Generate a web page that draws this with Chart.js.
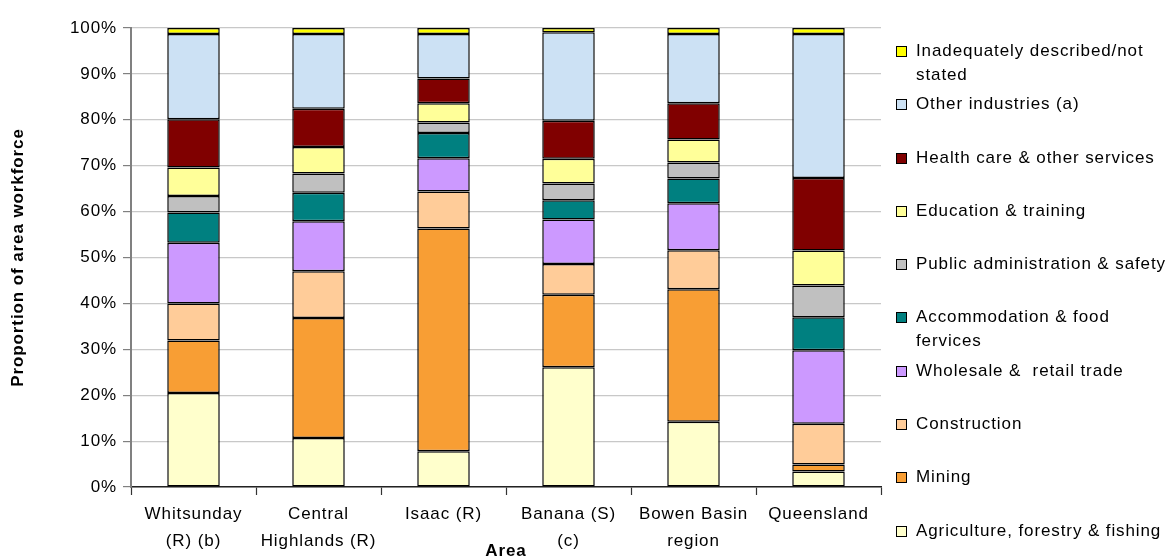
<!DOCTYPE html>
<html>
<head>
<meta charset="utf-8">
<script src="https://cdn.jsdelivr.net/npm/chart.js@4/dist/chart.umd.min.js"></script>
<style>
  html, body { margin: 0; padding: 0; background: #fff; width: 1173px; height: 558px; overflow: hidden; }
  #wrap { position: absolute; left: 0; top: 0; width: 1173px; height: 558px; }
  #legend { position: absolute; left: 896px; top: 39px; font-family: "Liberation Sans", Arial, sans-serif; font-size: 17px; letter-spacing: 0.9px; color: #000; }
  .item { position: relative; height: 53.3px; }
  .sw { position: absolute; left: 0; top: 7px; width: 9px; height: 9px; border: 1px solid #000; }
  .tx { position: absolute; left: 20px; top: 0; line-height: 24px; white-space: pre; }
</style>
</head>
<body>
<div id="wrap"><canvas id="c" width="1173" height="558"></canvas></div>
<div id="legend"></div>
<script>
const categories = [["Whitsunday", "(R) (b)"], ["Central", "Highlands (R)"], ["Isaac (R)"], ["Banana (S)", "(c)"], ["Bowen Basin", "region"], ["Queensland"]];
const yTicks = [0, 10, 20, 30, 40, 50, 60, 70, 80, 90, 100];

const agriculture   = [20.5, 10.7, 7.8, 26.1, 14.2, 3.4];
const mining        = [11.4, 26.1, 48.5, 15.8, 28.9, 1.5];
const construction  = [8.1, 10.2, 8.1, 6.7, 8.5, 8.9];
const wholesale     = [13.2, 10.9, 7.2, 9.7, 10.2, 16.0];
const accommodation = [6.6, 6.2, 5.5, 4.2, 5.4, 7.2];
const publicAdmin   = [3.6, 4.2, 2.3, 3.6, 3.5, 6.9];
const education     = [6.2, 5.8, 4.2, 5.4, 5.0, 7.6];
const health        = [10.5, 8.3, 5.4, 8.3, 7.9, 15.8];
const otherInd      = [18.6, 16.3, 9.7, 19.3, 15.1, 31.4];
const inadequate    = [1.3, 1.3, 1.3, 0.9, 1.3, 1.3];

const seriesNames = [
  "Agriculture, forestry & fishing",
  "Mining",
  "Construction",
  "Wholesale &  retail trade",
  "Accommodation & food\nfervices",
  "Public administration & safety",
  "Education & training",
  "Health care & other services",
  "Other industries (a)",
  "Inadequately described/not\nstated"
];
const seriesData = [agriculture, mining, construction, wholesale, accommodation, publicAdmin, education, health, otherInd, inadequate];
const seriesColors = ["#FFFFCC", "#F89E34", "#FFCC99", "#CC99FF", "#008080", "#C0C0C0", "#FFFF99", "#800000", "#CCE1F4", "#FFFF00"];

const FONT = '"Liberation Sans", Arial, sans-serif';

const datasets = seriesNames.map((n, i) => ({
  label: n,
  data: seriesData[i],
  backgroundColor: seriesColors[i],
  borderColor: "#000000",
  borderWidth: 1.5,
  borderSkipped: false,
  categoryPercentage: 1,
  barPercentage: 0.42
}));

function spacing(chart) { try { chart.ctx.letterSpacing = "0.9px"; } catch (e) {} }
const spacingPlugin = {
  id: "spacing",
  beforeInit: spacing, beforeUpdate: spacing, beforeLayout: spacing, afterLayout: spacing, beforeDraw: spacing, beforeDatasetsDraw: spacing
};

new Chart(document.getElementById("c"), {
  type: "bar",
  data: { labels: categories, datasets },
  plugins: [spacingPlugin],
  options: {
    responsive: false,
    animation: false,
    layout: { padding: { top: 28, right: 292, bottom: 0, left: 0 } },
    plugins: { legend: { display: false }, tooltip: { enabled: false } },
    scales: {
      x: {
        stacked: true,
        offset: true,
        border: { display: true, color: "#222", width: 1.5 },
        grid: { offset: true, drawOnChartArea: false, drawTicks: true, tickLength: 8, tickColor: "#333", tickWidth: 1.2 },
        ticks: { color: "#000", padding: 6, maxRotation: 0, autoSkip: false, font: { family: FONT, size: 17, lineHeight: 1.59 } },
        title: { display: true, text: "Area", color: "#000", font: { family: FONT, size: 17, weight: "bold" }, padding: { top: 0, bottom: -4 } },
        afterFit: (s) => { s.height = 71; }
      },
      y: {
        stacked: true,
        min: 0, max: 100,
        border: { display: true, color: "#808080", width: 2 },
        grid: { color: "#c8c8c8", lineWidth: 1.2, tickLength: 8, tickColor: "#808080", tickWidth: 1.2 },
        afterBuildTicks: (s) => { s.ticks = yTicks.map(v => ({ value: v })); },
        ticks: { color: "#000", padding: 6, font: { family: FONT, size: 17 }, callback: (v) => v + "%" },
        title: { display: true, text: "Proportion of area workforce", color: "#000", font: { family: FONT, size: 17, weight: "bold" }, padding: { top: 8, bottom: 0 } },
        afterFit: (s) => { s.width = 131; }
      }
    }
  }
});

const leg = document.getElementById("legend");
for (let i = seriesNames.length - 1; i >= 0; i--) {
  const it = document.createElement("div");
  it.className = "item";
  const sw = document.createElement("div");
  sw.className = "sw";
  sw.style.background = seriesColors[i];
  const tx = document.createElement("div");
  tx.className = "tx";
  tx.textContent = seriesNames[i];
  it.appendChild(sw); it.appendChild(tx);
  leg.appendChild(it);
}
</script>
</body>
</html>
